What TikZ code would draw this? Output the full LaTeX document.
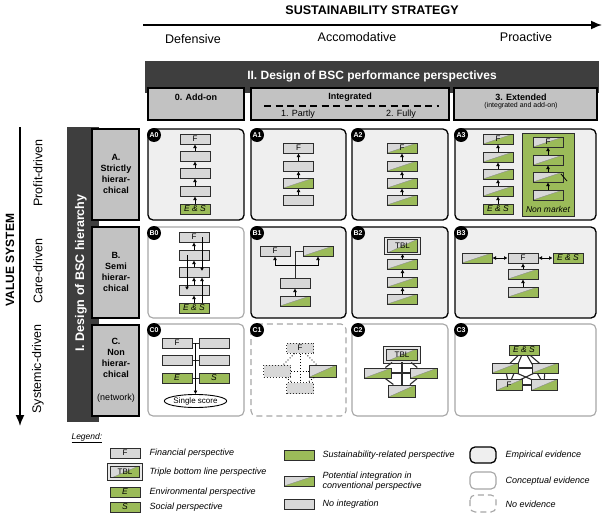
\documentclass[tikz,border=0pt]{standalone}
\usepackage{fontspec}
\setmainfont{Liberation Sans}
\usetikzlibrary{arrows.meta,shapes.geometric}
\definecolor{sgreen}{RGB}{155,187,89}
\definecolor{boxgray}{RGB}{216,216,216}
\definecolor{headgray}{RGB}{194,194,194}
\definecolor{darkbar}{RGB}{62,62,62}
\definecolor{cellgray}{RGB}{239,239,239}
\definecolor{edgegray}{RGB}{45,45,45}
\pgfdeclarelayer{back}
\pgfsetlayers{back,main}
\tikzset{
  persp/.style={draw=edgegray, line width=1pt, fill=boxgray, minimum width=30pt, minimum height=10pt, inner sep=0pt, font=\fontsize{8}{8}\selectfont},
  sust/.style={persp, fill=sgreen, font=\fontsize{8.5}{8}\selectfont\itshape},
  part/.style={persp, path picture={
      \fill[sgreen] (path picture bounding box.south west) -- (path picture bounding box.south east) -- (path picture bounding box.north east) -- cycle;
      \draw[black!45, line width=0.4pt] (path picture bounding box.south west) -- (path picture bounding box.north east);}},
  tbl/.style={part, double=boxgray!60, double distance=1.4pt, line width=0.9pt},
  dotbox/.style={persp, dotted, line width=1pt},
  upar/.style={-{Latex[length=3.5pt,width=4pt]}, line width=0.9pt, draw=black},
  twoway/.style={{Latex[length=3.5pt,width=4pt]}-{Latex[length=3.5pt,width=4pt]}, line width=0.9pt, draw=black},
  link/.style={line width=1.1pt, draw=edgegray},
  dotlink/.style={line width=0.9pt, dotted, draw=black},
  empir/.style={rounded corners=5pt, draw=black, line width=1.3pt, fill=cellgray},
  concep/.style={rounded corners=5pt, draw=black!35, line width=1.1pt, fill=white},
  noevid/.style={concep, dash pattern=on 6pt off 4pt},
  headbox/.style={draw=black, line width=1.1pt, fill=headgray},
  tag/.style={circle, fill=black, text=white, inner sep=0pt, minimum size=14pt, font=\bfseries\fontsize{7}{7}\selectfont},
  rowtext/.style={align=center, font=\bfseries\fontsize{9}{11}\selectfont},
  legtext/.style={anchor=west, align=left, font=\itshape\fontsize{9}{9.5}\selectfont},
  big/.style={font=\fontsize{12.5}{14}\selectfont}
}
\begin{document}
\begin{tikzpicture}[x=1pt,y=-1pt]
\useasboundingbox (0,0) rectangle (605,514);
\node[font=\bfseries\fontsize{12.5}{14}\selectfont] (title) at (372,10) {SUSTAINABILITY STRATEGY};
\coordinate (sa) at (143,25);
\coordinate (sb) at (602,25);
\draw[line width=1.6pt, -{Latex[length=11pt,width=9pt]}] (sa) -- (sb);
\node[big] (defen) at (193,39) {Defensive};
\node[big] (accom) at (357,37) {Accomodative};
\node[big] (proac) at (526,37) {Proactive};
\fill[darkbar] (145,61) rectangle (599,93);
\node[text=white, font=\bfseries\fontsize{12}{14}\selectfont] (perspbar) at (372,76) {II. Design of BSC performance perspectives};
\draw[headbox] (148,88) rectangle (244,120);
\draw[headbox] (251,88) rectangle (449,120);
\draw[headbox] (454,88) rectangle (597,120);
\node[font=\bfseries\fontsize{9}{10}\selectfont] (addon) at (196,97) {0. Add-on};
\node[font=\bfseries\fontsize{9}{10}\selectfont] (integ) at (350,97) {Integrated};
\coordinate (da) at (264,106);
\coordinate (db) at (439,106);
\draw[line width=1.3pt, dash pattern=on 7pt off 4.5pt] (da) -- (db);
\node[font=\fontsize{9}{10}\selectfont] (partly) at (298,114) {1. Partly};
\node[font=\fontsize{9}{10}\selectfont] (fully) at (401,114) {2. Fully};
\node[font=\bfseries\fontsize{9}{10}\selectfont] (exten) at (521,97) {3. Extended};
\node[font=\fontsize{7}{8}\selectfont] (extsub) at (521,106) {(integrated and add-on)};

\node[rotate=90, font=\bfseries\fontsize{12}{14}\selectfont] (valsys) at (10,260) {VALUE SYSTEM};
\coordinate (va) at (20,127);
\coordinate (vb) at (20,426);
\draw[line width=1.6pt, -{Latex[length=11pt,width=9pt]}] (va) -- (vb);
\node[big, rotate=90] (profit) at (38,173) {Profit-driven};
\node[big, rotate=90] (care) at (38,271) {Care-driven};
\node[big, rotate=90] (system) at (38,369) {Systemic-driven};
\fill[darkbar] (67,127) rectangle (99,422);
\node[rotate=90, text=white, font=\bfseries\fontsize{12.5}{14}\selectfont] (hierbar) at (81,273) {I. Design of BSC hierarchy};
\draw[headbox] (92,129) rectangle (139,220);
\draw[headbox] (92,227) rectangle (139,318);
\draw[headbox] (92,325) rectangle (139,416);
\node[rowtext] (rowA) at (116,174) {A.\\Strictly\\hierar-\\chical};
\node[rowtext] (rowB) at (116,272) {B.\\Semi\\hierar-\\chical};
\node[rowtext] (rowC) at (116,358) {C.\\Non\\hierar-\\chical};
\node[font=\fontsize{9}{11}\selectfont] (rowCn) at (116,398) {(network)};

\draw[empir] (148,129) rectangle (244,220);
\node[tag] (tA0) at (154,135) {A0};
\node[persp] (a0f) at (195,139) {F};
\node[persp] (a0b) at (195,156) {};
\node[persp] (a0c) at (195,173) {};
\node[persp] (a0d) at (195,191) {};
\node[sust] (a0e) at (195,209) {E \& S};
\path[upar] (a0b) edge (a0f);
\path[upar] (a0c) edge (a0b);
\path[upar] (a0d) edge (a0c);
\path[upar] (a0e) edge (a0d);

\draw[empir] (251,129) rectangle (346,220);
\node[tag] (tA1) at (257,135) {A1};
\node[persp] (a1f) at (298.5,148) {F};
\node[persp] (a1b) at (298.5,166) {};
\node[part] (a1c) at (298.5,183) {};
\node[persp] (a1d) at (298.5,200) {};
\path[upar] (a1b) edge (a1f);
\path[upar] (a1c) edge (a1b);
\path[upar] (a1d) edge (a1c);

\draw[empir] (352,129) rectangle (448,220);
\node[tag] (tA2) at (358,135) {A2};
\node[part] (a2f) at (402,148) {F};
\node[part] (a2b) at (402,166) {};
\node[part] (a2c) at (402,183) {};
\node[part] (a2d) at (402,200) {};
\path[upar] (a2b) edge (a2f);
\path[upar] (a2c) edge (a2b);
\path[upar] (a2d) edge (a2c);

\draw[empir] (455,129) rectangle (596,220);
\node[tag] (tA3) at (461,135) {A3};
\node[part] (a3f) at (498,139) {F};
\node[part] (a3b) at (498,157) {};
\node[part] (a3c) at (498,174) {};
\node[part] (a3d) at (498,191) {};
\node[sust] (a3e) at (498,209) {E \& S};
\path[upar] (a3b) edge (a3f);
\path[upar] (a3c) edge (a3b);
\path[upar] (a3d) edge (a3c);
\path[upar] (a3e) edge (a3d);
\draw[fill=sgreen, draw=edgegray, line width=1pt] (522,133) rectangle (574,216);
\node[part] (a3nf) at (548,142) {F};
\node[part] (a3nb) at (548,160) {};
\node[part] (a3nc) at (548,177) {};
\node[part] (a3nd) at (548,195) {};
\node[font=\itshape\fontsize{8.5}{9}\selectfont] (nonmkt) at (548,209) {Non market};
\path[upar] (a3nb) edge (a3nf);
\path[upar] (a3nc) edge (a3nb);
\path[upar] (a3nd) edge (a3nc);
\coordinate (tick0) at (561,174);
\coordinate (tick1) at (567,181);
\draw[line width=0.8pt] (tick0) -- (tick1);

\draw[concep] (148,227) rectangle (244,318);
\node[tag] (tB0) at (154,233) {B0};
\node[persp] (b0f) at (194,237) {F};
\node[persp] (b0b) at (194,255) {};
\node[persp] (b0c) at (194,272) {};
\node[persp] (b0d) at (194,290) {};
\node[sust] (b0e) at (194,308) {E \& S};
\path[upar] (b0b) edge (b0f);
\path[upar] (b0c) edge (b0b);
\path[upar] (b0d) edge (b0c);
\path[upar] (b0e) edge (b0d);
\draw[upar] ([xshift=8pt]b0f.center) -- ([xshift=8pt,yshift=1pt]b0c.center);
\draw[upar] ([xshift=-7pt]b0b.center) -- ([xshift=-7pt]b0d.center);
\draw[upar] ([xshift=8pt]b0e.north) -- ([xshift=8pt]b0c.south);

\draw[empir] (251,227) rectangle (346,318);
\node[tag] (tB1) at (257,233) {B1};
\node[persp] (b1f) at (275,251) {F};
\node[part] (b1p) at (318,251) {};
\node[persp] (b1c) at (295,283) {};
\node[part] (b1d) at (295,301) {};
\coordinate (b1j) at (295,265);
\path[upar] (b1d) edge (b1c);
\draw[link, line width=0.9pt] (b1c) -- (b1j);
\draw[upar] (b1j) -| (b1f);
\draw[upar] (b1j) -| (b1p);
\draw[link, line width=0.9pt] (b1j) |- (b1p.west);

\draw[empir] (352,227) rectangle (448,318);
\node[tag] (tB2) at (358,233) {B2};
\node[tbl, minimum width=33pt, minimum height=15pt] (b2t) at (402.5,246) {TBL};
\node[part] (b2b) at (402.5,264) {};
\node[part] (b2c) at (402.5,282) {};
\node[part] (b2d) at (402.5,299) {};
\path[upar] (b2b) edge (b2t);
\path[upar] (b2c) edge (b2b);
\path[upar] (b2d) edge (b2c);

\draw[empir] (455,227) rectangle (596,318);
\node[tag] (tB3) at (461,233) {B3};
\node[persp] (b3f) at (523,258) {F};
\node[part] (b3l) at (477,258) {};
\node[sust] (b3e) at (568,258) {E \& S};
\node[part] (b3b) at (523,274) {};
\node[part] (b3c) at (523,292) {};
\path[twoway] (b3l) edge (b3f);
\path[twoway] (b3f) edge (b3e);
\path[upar] (b3b) edge (b3f);
\path[upar] (b3c) edge (b3b);

\draw[concep] (148,324) rectangle (244,416);
\node[tag] (tC0) at (154,330) {C0};
\node[persp] (c0f) at (177,343) {F};
\node[persp] (c0a) at (214,343) {};
\node[persp] (c0b) at (177,360) {};
\node[persp] (c0c) at (214,360) {};
\node[sust] (c0e) at (177,378) {E};
\node[sust] (c0s) at (214,378) {S};
\node[draw=black, line width=0.9pt, fill=white, ellipse, minimum width=57pt, minimum height=13pt, inner sep=0pt, font=\fontsize{8}{8}\selectfont] (c0sc) at (195.5,401) {Single score};
\coordinate (c0top) at (195.5,343);
\path[link, line width=0.9pt] (c0f) edge (c0a);
\path[link, line width=0.9pt] (c0b) edge (c0c);
\path[link, line width=0.9pt] (c0e) edge (c0s);
\draw[upar] (c0top) -- (c0sc);

\draw[noevid] (251,324) rectangle (346,416);
\node[tag] (tC1) at (257,330) {C1};
\node[dotbox, minimum width=27pt] (c1f) at (300,348) {F};
\node[dotbox, minimum width=27pt, minimum height=12pt] (c1l) at (277,371) {};
\node[part, minimum width=27pt, minimum height=12pt] (c1r) at (323,371) {};
\node[dotbox, minimum width=27pt, minimum height=11pt] (c1b) at (300,388) {};
\path[dotlink] (c1f) edge (c1l);
\path[dotlink] (c1f) edge (c1r);
\path[dotlink] (c1f) edge (c1b);
\path[dotlink] (c1l) edge (c1r);
\path[dotlink] (c1l) edge (c1b);
\path[dotlink] (c1r) edge (c1b);

\draw[concep] (352,324) rectangle (448,416);
\node[tag] (tC2) at (358,330) {C2};
\node[tbl, minimum width=34pt, minimum height=14pt] (c2t) at (402,355) {TBL};
\node[part, minimum width=27pt] (c2l) at (378,373) {};
\node[part, minimum width=27pt] (c2r) at (424,373) {};
\node[part, minimum width=27pt, minimum height=12pt] (c2b) at (402,391) {};
\path[link] (c2t) edge (c2b);
\path[link] (c2l) edge (c2r);
\path[link] (c2t) edge (c2l);
\path[link] (c2t) edge (c2r);
\path[link] (c2l) edge (c2b);
\path[link] (c2r) edge (c2b);

\begin{pgfonlayer}{back}
\draw[concep] (455,324) rectangle (596,416);
\end{pgfonlayer}
\node[tag] (tC3) at (461,330) {C3};
\node[sust] (c3e) at (524,350) {E \& S};
\node[part, minimum width=26pt] (c3a) at (505,368) {};
\node[part, minimum width=26pt] (c3b) at (545,368) {};
\node[part, minimum width=26pt, minimum height=11pt] (c3c) at (509,385) {F};
\node[part, minimum width=26pt, minimum height=11pt] (c3d) at (544,385) {};
\begin{pgfonlayer}{back}
\path[link] (c3e.center) edge (c3a.center);
\path[link] (c3e.center) edge (c3b.center);
\path[link] (c3e.center) edge (c3c.center);
\path[link] (c3e.center) edge (c3d.center);
\path[link] (c3a.center) edge (c3b.center);
\path[link] (c3a.center) edge (c3d.center);
\path[link] (c3b.center) edge (c3c.center);
\path[link] (c3c.center) edge (c3d.center);
\path[link] (c3a.center) edge (c3c.center);
\path[link] (c3b.center) edge (c3d.center);
\end{pgfonlayer}

\node[anchor=west, font=\itshape\fontsize{8.5}{9}\selectfont] (legend) at (68,438) {\underline{Legend:}};
\node[persp] (lgF) at (125,453) {F};
\node[tbl, minimum width=32pt, minimum height=14pt] (lgT) at (125,472) {TBL};
\node[sust] (lgE) at (125,492) {E};
\node[sust] (lgS) at (125,507) {S};
\node[legtext] (lgFt) at (146,453) {Financial perspective};
\node[legtext] (lgTt) at (146,472) {Triple bottom line perspective};
\node[legtext] (lgEt) at (146,492) {Environmental perspective};
\node[legtext] (lgSt) at (146,507) {Social perspective};
\node[sust] (lgG) at (299,455) {};
\node[part] (lgP) at (299,481) {};
\node[persp] (lgN) at (299,504) {};
\node[legtext] (lgGt) at (319,455) {Sustainability-related perspective};
\node[legtext] (lgPt) at (319,481) {Potential integration in\\conventional perspective};
\node[legtext] (lgNt) at (319,504) {No integration};
\draw[empir] (470,447) rectangle (496,463);
\draw[concep] (470,472) rectangle (496,489);
\draw[noevid] (470,495) rectangle (496,512);
\node[legtext] (lgEm) at (502,455) {Empirical evidence};
\node[legtext] (lgCo) at (502,481) {Conceptual evidence};
\node[legtext] (lgNo) at (502,504) {No evidence};
\end{tikzpicture}
\end{document}
